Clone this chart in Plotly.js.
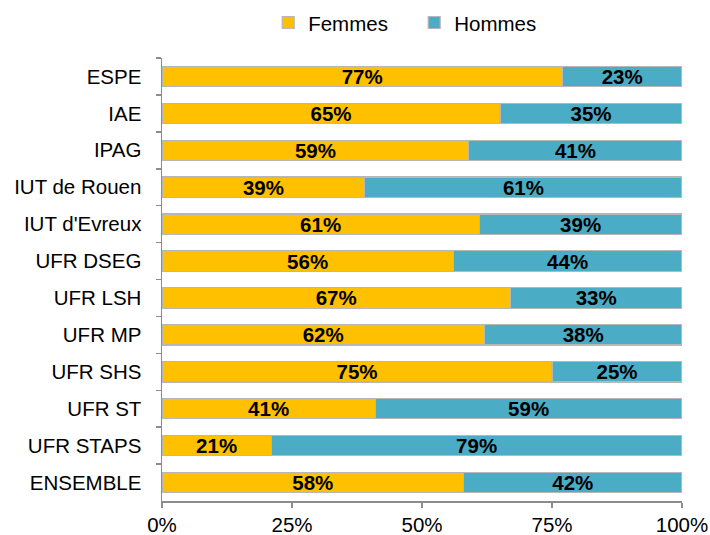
<!DOCTYPE html>
<html>
<head>
<meta charset="utf-8">
<script src="https://cdn.plot.ly/plotly-3.0.1.min.js"></script>
<style>
  html, body { margin: 0; padding: 0; background: #fff; }
  #chart { width: 710px; height: 535px; }
</style>
</head>
<body>
<div id="chart"></div>
<script>
// Répartition Femmes / Hommes par composante (%)
const composantes = ['ESPE', 'IAE', 'IPAG', 'IUT de Rouen', "IUT d'Evreux", 'UFR DSEG',
  'UFR LSH', 'UFR MP', 'UFR SHS', 'UFR ST', 'UFR STAPS', 'ENSEMBLE'];
const femmes = [77, 65, 59, 39, 61, 56, 67, 62, 75, 41, 21, 58];
const hommes = [23, 35, 41, 61, 39, 44, 33, 38, 25, 59, 79, 42];
const tickVals = [0, 25, 50, 75, 100];

const FONT = 'Liberation Sans, Arial, sans-serif';

function serie(name, vals, color) {
  return {
    type: 'bar', orientation: 'h', name,
    y: composantes, x: vals,
    marker: { color, line: { color: '#b7b7b7', width: 1.2 } },
    text: vals.map(v => '<b>' + v + '%</b>'),
    textposition: 'inside', insidetextanchor: 'middle', constraintext: 'none',
    textfont: { family: FONT, size: 20.5, color: '#000' },
    hoverinfo: 'skip',
  };
}

const traces = [
  serie('Femmes', femmes, '#ffc000'),
  serie('Hommes', hommes, '#4bacc6'),
];

const layout = {
  width: 710, height: 535,
  margin: { l: 162, r: 28, t: 57.5, b: 33.5 },
  barmode: 'stack', bargap: 0.45,
  paper_bgcolor: '#fff', plot_bgcolor: '#fff',
  font: { family: FONT, size: 20, color: '#000' },
  showlegend: true,
  legend: {
    orientation: 'h', x: 0.485, xref: 'paper', xanchor: 'center', y: 0.995, yref: 'container', yanchor: 'top',
    font: { family: FONT, size: 20.5 }, traceorder: 'normal', entrywidth: 101,
  },
  xaxis: {
    range: [0, 100], tickvals: tickVals, ticktext: tickVals.map(v => v + '%'),
    showgrid: false, zeroline: false, showline: true, linecolor: '#8c8c8c', linewidth: 1.5,
    ticks: 'outside', ticklen: 5, tickcolor: '#8c8c8c', tickwidth: 1.5,
    tickfont: { family: FONT, size: 20.5 }, fixedrange: true,
  },
  yaxis: {
    autorange: 'reversed', type: 'category',
    showgrid: false, zeroline: false, showline: true, linecolor: '#8c8c8c', linewidth: 1.5,
    ticks: 'outside', tickson: 'boundaries', ticklen: 5, tickcolor: '#8c8c8c', tickwidth: 1.5,
    tickfont: { family: FONT, size: 20.5 }, ticklabelstandoff: 15, fixedrange: true,
  },
};

Plotly.newPlot('chart', traces, layout, { displayModeBar: false, staticPlot: true });
</script>
</body>
</html>
